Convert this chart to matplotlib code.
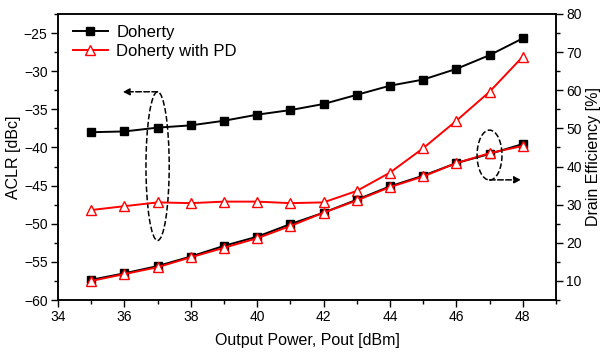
import matplotlib.pyplot as plt
from matplotlib.patches import Ellipse
from matplotlib.ticker import MultipleLocator

plt.rcParams['font.family'] = ['Liberation Sans', 'DejaVu Sans']

pout = [35, 36, 37, 38, 39, 40, 41, 42, 43, 44, 45, 46, 47, 48]

# ACLR [dBc], left axis
aclr_doherty = [-38.0, -37.9, -37.4, -37.1, -36.5, -35.7, -35.1,
                -34.3, -33.1, -31.9, -31.1, -29.7, -27.9, -25.7]
aclr_pd = [-48.2, -47.7, -47.2, -47.3, -47.1, -47.1, -47.3,
           -47.2, -45.7, -43.3, -40.1, -36.5, -32.7, -28.1]

# drain efficiency [%], right axis
eff_doherty = [10.3, 12.0, 13.9, 16.4, 19.2, 21.6, 24.9,
               27.9, 31.3, 34.8, 37.6, 40.9, 43.3, 45.9]
eff_pd = [10.0, 11.8, 13.6, 16.2, 18.7, 21.2, 24.4,
          27.9, 31.1, 34.6, 37.4, 40.9, 43.5, 45.4]

fig = plt.figure(figsize=(6.01, 3.54), dpi=100)
ax = fig.add_axes([0.0965, 0.1525, 0.8285, 0.808])
ax2 = ax.twinx()

sq = dict(color='black', marker='s', markersize=5.5, linewidth=1.4)
tri = dict(color='red', marker='^', markersize=7.5, markerfacecolor='white',
           markeredgecolor='red', markeredgewidth=1.0, linewidth=1.4)

ax.plot(pout, aclr_doherty, label='Doherty', **sq)
ax.plot(pout, aclr_pd, label='Doherty with PD', **tri)
ax2.plot(pout, eff_doherty, **sq)
ax2.plot(pout, eff_pd, **tri)

ax.set_xlim(34, 49)
ax.set_ylim(-60, -22.5)
ax2.set_ylim(5, 80)

ax.xaxis.set_major_locator(MultipleLocator(2))
ax.xaxis.set_minor_locator(MultipleLocator(1))
ax.yaxis.set_major_locator(MultipleLocator(5))
ax.yaxis.set_minor_locator(MultipleLocator(2.5))
ax2.yaxis.set_major_locator(MultipleLocator(10))
ax2.yaxis.set_minor_locator(MultipleLocator(5))

for a in (ax, ax2):
    a.tick_params(which='major', direction='out', length=5, width=1,
                  labelsize=10, pad=2.5)
    a.tick_params(which='minor', direction='out', length=3, width=1)
    for s in a.spines.values():
        s.set_linewidth(1.1)
ax.tick_params(top=False, which='both')

ax.set_xlabel('Output Power, Pout [dBm]', fontsize=11.5, labelpad=6)
ax.set_ylabel('ACLR [dBc]', fontsize=11.5, labelpad=2)
ax2.set_ylabel('Drain Efficiency [%]', fontsize=11.5, labelpad=3)

# annotation ellipses and arrows
ax.add_patch(Ellipse((37, -42.45), 0.7, 19.5, fill=False, linestyle='--',
                     linewidth=1.1, edgecolor='black'))
ax.annotate('', xy=(35.95, -32.7), xytext=(37, -32.7),
            arrowprops=dict(arrowstyle='-|>', linestyle='--', color='black',
                            linewidth=1.1, shrinkA=0, shrinkB=0))
ax2.add_patch(Ellipse((47, 43.0), 0.75, 13.1, fill=False, linestyle='--',
                      linewidth=1.1, edgecolor='black', zorder=5))
ax2.annotate('', xy=(47.95, 36.5), xytext=(47, 36.5),
             arrowprops=dict(arrowstyle='-|>', linestyle='--', color='black',
                             linewidth=1.1, shrinkA=0, shrinkB=0))

ax.legend(loc='upper left', bbox_to_anchor=(0.03, 0.962), frameon=False,
          fontsize=12, handlelength=2.1, borderaxespad=0, borderpad=0,
          labelspacing=0.26, handletextpad=0.5)

fig.savefig('out.png', dpi=100)
